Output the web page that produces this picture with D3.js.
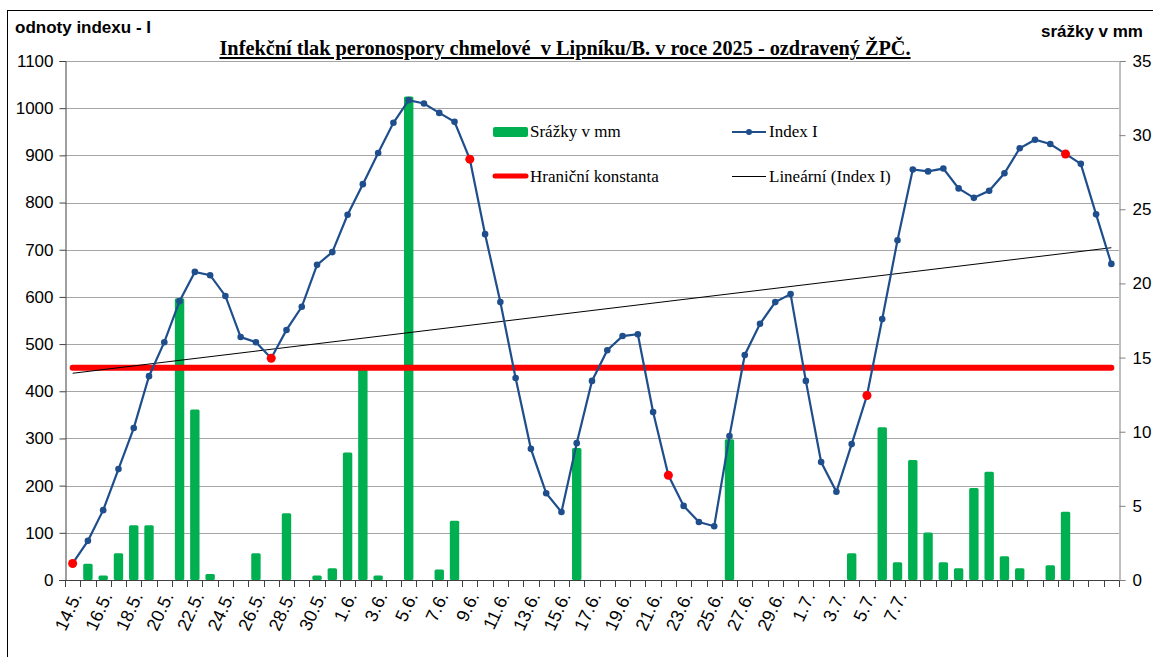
<!DOCTYPE html>
<html>
<head>
<meta charset="utf-8">
<script src="https://cdn.jsdelivr.net/npm/d3@7"></script>
<style>
  body { margin: 0; background: #fff; }
  svg { display: block; }
</style>
</head>
<body>
<div id="chart"></div>
<script>
// dny (kategorie)
var dates = ["14.5.","15.5.","16.5.","17.5.","18.5.","19.5.","20.5.","21.5.","22.5.","23.5.",
  "24.5.","25.5.","26.5.","27.5.","28.5.","29.5.","30.5.","31.5.","1.6.","2.6.",
  "3.6.","4.6.","5.6.","6.6.","7.6.","8.6.","9.6.","10.6.","11.6.","12.6.",
  "13.6.","14.6.","15.6.","16.6.","17.6.","18.6.","19.6.","20.6.","21.6.","22.6.",
  "23.6.","24.6.","25.6.","26.6.","27.6.","28.6.","29.6.","30.6.","1.7.","2.7.",
  "3.7.","4.7.","5.7.","6.7.","7.7.","8.7.","9.7.","10.7.","11.7.","12.7.",
  "13.7.","14.7.","15.7.","16.7.","17.7.","18.7.","19.7.","20.7.","21.7."];

var tickLabels = ["14.5.","16.5.","18.5.","20.5.","22.5.","24.5.","26.5.","28.5.","30.5.","1.6.",
  "3.6.","5.6.","7.6.","9.6.","11.6.","13.6.","15.6.","17.6.","19.6.","21.6.",
  "23.6.","25.6.","27.6.","29.6.","1.7.","3.7.","5.7.","7.7."];

// Index I
var indexI = [35,83,148,235,322,432,504,591,653,646,
  602,515,504,470,530,579,668,695,774,839,
  905,969,1017,1010,990,971,892,733,589,428,
  278,184,144,290,422,487,517,521,356,222,
  157,123,114,305,477,543,589,606,422,250,
  187,288,391,553,720,870,866,872,830,810,
  825,862,915,933,924,903,882,775,670];

// dny s červeným bodem
var redDays = ["14.5.","27.5.","9.6.","22.6.","5.7.","18.7."];

// srážky v mm
var rain = [0,1.1,0.3,1.8,3.7,3.7,0,19.0,11.5,0.4,
  0,0,1.8,0,4.5,0,0.3,0.8,8.6,14.3,
  0.3,0,32.6,0,0.7,4.0,0,0,0,0,
  0,0,0,8.9,0,0,0,0,0,0,
  0,0,0,9.5,0,0,0,0,0,0,
  0,1.8,0,10.3,1.2,8.1,3.2,1.2,0.8,6.2,
  7.3,1.6,0.8,0,1.0,4.6,0,0,0];

var limit = 450; // Hraniční konstanta

var leftTicks = [0,100,200,300,400,500,600,700,800,900,1000,1100];
var rightTicks = [0,5,10,15,20,25,30,35];

var W = 1153, H = 657;
var pL = 65, pR = 1119, pT = 61, pB = 580;

var svg = d3.select("#chart").append("svg")
    .attr("width", W)
    .attr("height", H);

// ramecek
svg.append("rect")
    .attr("x", 7.5).attr("y", 10.5)
    .attr("width", W + 20).attr("height", H + 20)
    .attr("fill", "none")
    .attr("stroke", "#000");

var x = d3.scaleBand().domain(dates).range([pL, pR]).padding(0);
var yL = d3.scaleLinear().domain([0, 1100]).range([pB, pT]);
var yR = d3.scaleLinear().domain([0, 35]).range([pB, pT]);
var cx = function(d) { return x(d) + x.bandwidth() / 2; };

// mrizka
svg.append("g")
  .selectAll("line")
  .data(leftTicks.filter(function(v) { return v > 0; }))
  .enter().append("line")
    .attr("x1", pL).attr("x2", pR)
    .attr("y1", function(d) { return Math.round(yL(d)) + 0.5; })
    .attr("y2", function(d) { return Math.round(yL(d)) + 0.5; })
    .attr("stroke", "#a6a6a6")
    .attr("stroke-width", 1);

// sloupce - srazky
var bw = 9.4;
svg.append("g")
  .selectAll("rect")
  .data(rain.map(function(v, i) { return {d: dates[i], v: v}; }).filter(function(o) { return o.v > 0; }))
  .enter().append("rect")
    .attr("x", function(o) { return cx(o.d) - bw / 2; })
    .attr("y", function(o) { return yR(o.v); })
    .attr("width", bw)
    .attr("height", function(o) { return pB - yR(o.v); })
    .attr("rx", 1.5)
    .attr("fill", "#00b050");

// osa x
svg.append("line")
    .attr("x1", pL - 6).attr("x2", pR)
    .attr("y1", pB + 0.5).attr("y2", pB + 0.5)
    .attr("stroke", "#404040");

svg.append("g")
  .selectAll("line")
  .data(d3.range(dates.length + 1))
  .enter().append("line")
    .attr("x1", function(i) { return Math.round(pL + i * x.bandwidth()) + 0.5; })
    .attr("x2", function(i) { return Math.round(pL + i * x.bandwidth()) + 0.5; })
    .attr("y1", pB).attr("y2", pB + 7)
    .attr("stroke", "#404040");

svg.append("g")
  .selectAll("text")
  .data(dates.filter(function(d) { return tickLabels.indexOf(d) >= 0; }))
  .enter().append("text")
    .attr("transform", function(d) { return "translate(" + (cx(d) + 4) + "," + (pB + 13) + ") rotate(-65)"; })
    .attr("text-anchor", "end")
    .attr("dy", "0.35em")
    .style("font-family", "Liberation Sans, Arial, sans-serif")
    .style("font-size", "18px")
    .attr("fill", "#000")
    .text(function(d) { return d; });

// leva osa
var yAxisL = d3.axisLeft(yL).tickValues(leftTicks).tickFormat(d3.format("d")).tickSize(6).tickPadding(6);
var gL = svg.append("g")
    .attr("transform", "translate(" + (pL + 0.5) + ",0)")
    .call(yAxisL);
gL.select(".domain").attr("stroke", "#404040");
gL.selectAll(".tick line").attr("stroke", "#404040");
gL.selectAll("text")
    .style("font-family", "Liberation Sans, Arial, sans-serif")
    .style("font-size", "17px")
    .attr("fill", "#000");

// prava osa
var yAxisR = d3.axisRight(yR).tickValues(rightTicks).tickFormat(d3.format("d")).tickSize(6).tickPadding(7);
var gR = svg.append("g")
    .attr("transform", "translate(" + (pR + 0.5) + ",0)")
    .call(yAxisR);
gR.select(".domain").attr("stroke", "#808080");
gR.selectAll(".tick line").attr("stroke", "#808080");
gR.selectAll("text")
    .style("font-family", "Liberation Sans, Arial, sans-serif")
    .style("font-size", "17px")
    .attr("fill", "#000");

// hranicni konstanta
svg.append("line")
    .attr("x1", cx(dates[0])).attr("x2", cx(dates[dates.length - 1]))
    .attr("y1", yL(limit)).attr("y2", yL(limit))
    .attr("stroke", "#ff0000")
    .attr("stroke-width", 6)
    .attr("stroke-linecap", "round");

// linearni trend (Index I)
var n = indexI.length;
var mx = d3.mean(d3.range(n)), my = d3.mean(indexI);
var sxy = d3.sum(indexI, function(v, i) { return (i - mx) * (v - my); });
var sxx = d3.sum(d3.range(n), function(i) { return (i - mx) * (i - mx); });
var slope = sxy / sxx, icpt = my - slope * mx;
svg.append("line")
    .attr("x1", cx(dates[0])).attr("x2", cx(dates[n - 1]))
    .attr("y1", yL(icpt)).attr("y2", yL(icpt + slope * (n - 1)))
    .attr("stroke", "#000")
    .attr("stroke-width", 1);

// Index I
var line = d3.line()
    .x(function(v, i) { return cx(dates[i]); })
    .y(function(v) { return yL(v); });

svg.append("path")
    .datum(indexI)
    .attr("d", line)
    .attr("fill", "none")
    .attr("stroke", "#1f4e8c")
    .attr("stroke-width", 2.2);

svg.append("g")
  .selectAll("circle")
  .data(indexI)
  .enter().append("circle")
    .attr("cx", function(v, i) { return cx(dates[i]); })
    .attr("cy", function(v) { return yL(v); })
    .attr("r", function(v, i) { return redDays.indexOf(dates[i]) >= 0 ? 4.5 : 3.3; })
    .attr("fill", function(v, i) { return redDays.indexOf(dates[i]) >= 0 ? "#ff0000" : "#1f4e8c"; });

// legenda
var lg = svg.append("g")
    .style("font-family", "Liberation Serif, Times New Roman, serif")
    .style("font-size", "17px");
lg.append("rect").attr("x", 493).attr("y", 127).attr("width", 35).attr("height", 10).attr("rx", 2).attr("fill", "#00b050");
lg.append("text").attr("x", 530).attr("y", 137).text("Srážky v mm");
lg.append("line").attr("x1", 732).attr("x2", 766).attr("y1", 132).attr("y2", 132).attr("stroke", "#1f4e8c").attr("stroke-width", 2.2);
lg.append("circle").attr("cx", 749).attr("cy", 132).attr("r", 3).attr("fill", "#1f4e8c");
lg.append("text").attr("x", 769).attr("y", 137).text("Index I");
lg.append("line").attr("x1", 495).attr("x2", 526).attr("y1", 176).attr("y2", 176).attr("stroke", "#ff0000").attr("stroke-width", 5).attr("stroke-linecap", "round");
lg.append("text").attr("x", 530).attr("y", 182).text("Hraniční konstanta");
lg.append("line").attr("x1", 732).attr("x2", 766).attr("y1", 176.5).attr("y2", 176.5).attr("stroke", "#000").attr("stroke-width", 1);
lg.append("text").attr("x", 769).attr("y", 182).text("Lineární (Index I)");

// nadpisy
svg.append("text")
    .attr("x", 565).attr("y", 55)
    .attr("text-anchor", "middle")
    .style("font-family", "Liberation Serif, Times New Roman, serif")
    .style("font-size", "20.3px")
    .style("font-weight", "bold")
    .style("text-decoration", "underline")
    .style("white-space", "pre")
    .text("Infekční tlak peronospory chmelové  v Lipníku/B. v roce 2025 - ozdravený ŽPČ.");

svg.append("text")
    .attr("x", 15).attr("y", 33)
    .style("font-family", "Liberation Sans, Arial, sans-serif")
    .style("font-size", "17px")
    .style("font-weight", "bold")
    .text("odnoty indexu - I");

svg.append("text")
    .attr("x", 1143).attr("y", 37)
    .attr("text-anchor", "end")
    .style("font-family", "Liberation Sans, Arial, sans-serif")
    .style("font-size", "17px")
    .style("font-weight", "bold")
    .text("srážky v mm");
</script>
</body>
</html>
